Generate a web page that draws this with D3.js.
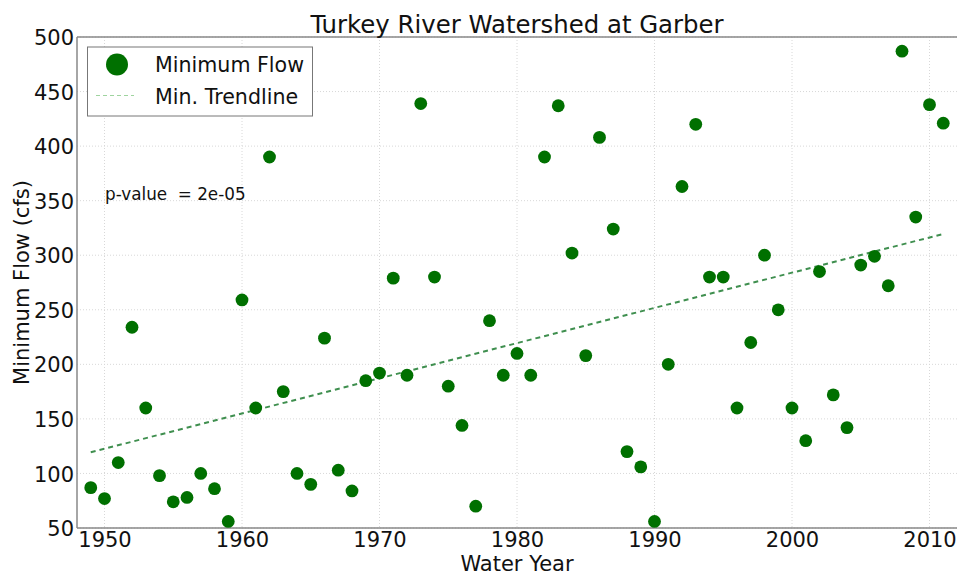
<!DOCTYPE html>
<html><head><meta charset="utf-8">
<script src="https://cdn.jsdelivr.net/npm/d3@7"></script>
<style>body{margin:0;background:#fff}svg{display:block}text{font-family:"DejaVu Sans",sans-serif;fill:#111}</style>
</head><body><svg id="c" width="957" height="575"></svg>
<script>
const years = d3.range(1949, 2012);
const minFlow = [87,77,110,234,160,98,74,78,100,86,56,259,160,390,175,100,90,224,103,84,185,192,279,190,439,280,180,144,70,240,190,210,190,390,437,302,208,408,324,120,106,56,200,363,420,280,280,160,220,300,250,160,130,285,172,142,291,299,272,487,335,438,421];
const trendYears = [1949, 2011];
const trendValues = [119.4, 319.5];
const xTicks = [1950,1960,1970,1980,1990,2000,2010];
const yTicks = [50,100,150,200,250,300,350,400,450,500];

const svg = d3.select("#c");
const L=77, R=957, T=37, B=528;
const x = d3.scaleLinear().domain([1948,2012]).range([L,R]);
const y = d3.scaleLinear().domain([50,500]).range([B,T]);

// grid
const g = svg.append("g");
g.selectAll(".gx").data(xTicks).join("line").attr("x1",d=>x(d)).attr("x2",d=>x(d)).attr("y1",T).attr("y2",B)
 .attr("stroke","#d8d8d8").attr("stroke-width",1).attr("stroke-dasharray","1,2");
g.selectAll(".gy").data(yTicks).join("line").attr("y1",d=>y(d)).attr("y2",d=>y(d)).attr("x1",L).attr("x2",R)
 .attr("stroke","#d8d8d8").attr("stroke-width",1).attr("stroke-dasharray","1,2");

// axes
const xa = svg.append("g").attr("transform",`translate(0,${B})`).call(d3.axisBottom(x).tickValues(xTicks).tickFormat(d3.format("d")).tickSize(0).tickPadding(4));
const ya = svg.append("g").attr("transform",`translate(${L},0)`).call(d3.axisLeft(y).tickValues(yTicks).tickSize(0).tickPadding(3));
[xa,ya].forEach(a=>{a.select(".domain").remove();a.selectAll("text").style("font-size","21px").style("font-family","DejaVu Sans").attr("fill","#111");});
xa.selectAll("text").attr("dy","0.72em");
ya.selectAll("text").attr("dy","0.36em");

// spines
svg.append("line").attr("x1",L).attr("x2",R).attr("y1",T).attr("y2",T).attr("stroke","#888").attr("stroke-width",1.5);
svg.append("line").attr("x1",L).attr("x2",R).attr("y1",B).attr("y2",B).attr("stroke","#888").attr("stroke-width",1.5);
svg.append("line").attr("x1",L).attr("x2",L).attr("y1",T).attr("y2",B).attr("stroke","#888").attr("stroke-width",1.5);

// trendline
svg.append("line").attr("x1",x(trendYears[0])).attr("y1",y(trendValues[0])).attr("x2",x(trendYears[1])).attr("y2",y(trendValues[1]))
 .attr("stroke","#3f8f4f").attr("stroke-width",2).attr("stroke-dasharray","5,4");

// points
svg.append("g").selectAll("circle").data(years.map((yr,i)=>({yr,v:minFlow[i]}))).join("circle")
 .attr("cx",d=>x(d.yr)).attr("cy",d=>y(d.v)).attr("r",6.4).attr("fill","#007000");

// title and labels
svg.append("text").attr("x",(L+R)/2).attr("y",33).attr("text-anchor","middle").style("font-size","24.4px").text("Turkey River Watershed at Garber");
svg.append("text").attr("x",(L+R)/2).attr("y",571).attr("text-anchor","middle").style("font-size","21px").text("Water Year");
svg.append("text").attr("transform",`translate(29,${(T+B)/2}) rotate(-90)`).attr("text-anchor","middle").style("font-size","21px").text("Minimum Flow (cfs)");
svg.append("text").attr("x",105).attr("y",200).style("font-size","16.8px").style("white-space","pre").text("p-value  = 2e-05");

// legend
const lg = svg.append("g");
lg.append("rect").attr("x",87.5).attr("y",47).attr("width",225).attr("height",69).attr("fill","#fff").attr("stroke","#777").attr("stroke-width",1);
lg.append("circle").attr("cx",117).attr("cy",64.5).attr("r",11).attr("fill","#007000");
lg.append("line").attr("x1",96).attr("x2",134).attr("y1",95.5).attr("y2",95.5).attr("stroke","#9fd49f").attr("stroke-width",1.2).attr("stroke-dasharray","4,3");
lg.append("text").attr("x",155).attr("y",72).style("font-size","20.6px").text("Minimum Flow");
lg.append("text").attr("x",155).attr("y",104).style("font-size","20.6px").text("Min. Trendline");
</script></body></html>
